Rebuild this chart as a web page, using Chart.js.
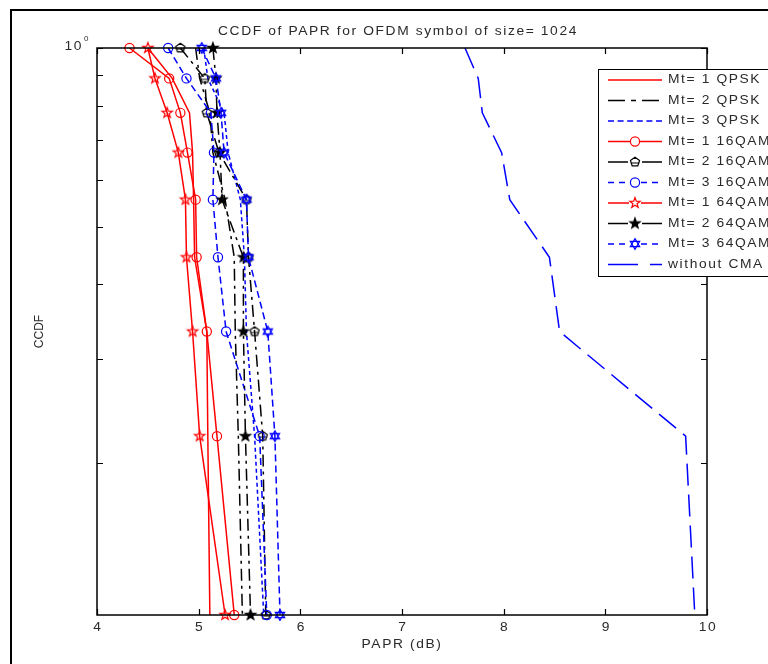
<!DOCTYPE html>
<html>
<head>
<meta charset="utf-8">
<script src="https://cdn.jsdelivr.net/npm/chart.js@4.4.1/dist/chart.umd.min.js"></script>
<style>
html,body{margin:0;padding:0;background:#fff;overflow:hidden;}
#wrap{position:relative;width:768px;height:664px;}
#frame{position:absolute;left:10px;top:9px;width:800px;height:700px;border-left:2px solid #000;border-top:2px solid #000;}
#c{position:absolute;left:0;top:0;}
</style>
</head>
<body>
<div id="wrap"><div id="frame"></div><canvas id="c" width="768" height="664"></canvas></div>
<script>
// ---- data ----
const ccdfLevels = [1, 0.8889, 0.7778, 0.6667, 0.5556, 0.4444, 0.3333, 0.2222, 0.1111];
const mt1Qpsk  = [4.50, 4.74, 4.91, 4.94, 4.95, 4.96, 5.08, 5.09, 5.11];
const mt2Qpsk  = [4.97, 5.01, 5.11, 5.14, 5.26, 5.35, 5.36, 5.39, 5.43];
const mt3Qpsk  = [5.05, 5.09, 5.25, 5.29, 5.41, 5.45, 5.47, 5.55, 5.64];
const mt1Qam16 = [4.32, 4.71, 4.82, 4.89, 4.97, 4.98, 5.08, 5.18, 5.35];
const mt2Qam16 = [4.82, 5.06, 5.08, 5.20, 5.47, 5.49, 5.55, 5.63, 5.66];
const mt3Qam16 = [4.70, 4.88, 5.12, 5.15, 5.14, 5.19, 5.27, 5.60, 5.67];
const mt1Qam64 = [4.50, 4.57, 4.69, 4.80, 4.87, 4.88, 4.94, 5.01, 5.26];
const mt2Qam64 = [5.14, 5.17, 5.18, 5.21, 5.23, 5.44, 5.44, 5.46, 5.51];
const mt3Qam64 = [5.03, 5.17, 5.22, 5.25, 5.47, 5.49, 5.68, 5.75, 5.80];
const noCma    = [7.62, 7.75, 7.79, 7.98, 8.06, 8.45, 8.55, 9.79, 9.88];
const seriesLabels = ['Mt= 1 QPSK','Mt= 2 QPSK','Mt= 3 QPSK','Mt= 1 16QAM','Mt= 2 16QAM','Mt= 3 16QAM','Mt= 1 64QAM','Mt= 2 64QAM','Mt= 3 64QAM','without CMA'];
const xTicks = [4, 5, 6, 7, 8, 9, 10];
const yTicks = [0.2, 0.3, 0.4, 0.5, 0.6, 0.7, 0.8, 0.9, 1];
const titleText = 'CCDF of PAPR for OFDM symbol of size= 1024';
const xLabel = 'PAPR (dB)';
const yLabel = 'CCDF';

// ---- marker images ----
function markerCanvas(kind, color, filled) {
  const s = 16, c = document.createElement('canvas');
  c.width = s; c.height = s;
  const g = c.getContext('2d');
  g.translate(s / 2, s / 2);
  g.lineWidth = 1.2; g.strokeStyle = color; g.fillStyle = color;
  g.beginPath();
  if (kind === 'pentagram') {
    for (let i = 0; i < 10; i++) {
      const r = i % 2 ? 2.2 : 5.4, a = -Math.PI / 2 + i * Math.PI / 5;
      const px = r * Math.cos(a), py = r * Math.sin(a);
      i ? g.lineTo(px, py) : g.moveTo(px, py);
    }
    g.closePath();
  } else if (kind === 'hexagram') {
    for (let t = 0; t < 2; t++) {
      for (let i = 0; i < 3; i++) {
        const a = (t ? Math.PI / 2 : -Math.PI / 2) + i * 2 * Math.PI / 3;
        const px = 5.4 * Math.cos(a), py = 5.4 * Math.sin(a);
        i ? g.lineTo(px, py) : g.moveTo(px, py);
      }
      g.closePath();
    }
  } else if (kind === 'pentagon') {
    for (let i = 0; i < 5; i++) {
      const a = -Math.PI / 2 + i * 2 * Math.PI / 5;
      const px = 4.8 * Math.cos(a), py = 4.8 * Math.sin(a);
      i ? g.lineTo(px, py) : g.moveTo(px, py);
    }
    g.closePath();
    g.moveTo(-4.5, 1); g.lineTo(4.5, 1);
  }
  if (filled) g.fill();
  g.stroke();
  return c;
}
const RED = '#ff0000', BLK = '#000000', BLU = '#0000ff';
const starRed = markerCanvas('pentagram', RED, false);
const starBlk = markerCanvas('pentagram', BLK, true);
const hexBlu = markerCanvas('hexagram', BLU, false);
const pentBlk = markerCanvas('pentagon', BLK, false);

const DD = [12, 5, 3, 5];
const styles = [
  {v: mt1Qpsk,  c: RED, dash: [],        ld: [],            m: false},
  {v: mt2Qpsk,  c: BLK, dash: DD,        ld: [17, 6, 5, 6], m: false},
  {v: mt3Qpsk,  c: BLU, dash: [4, 3],    ld: [6, 3.6],      m: false},
  {v: mt1Qam16, c: RED, dash: [],        ld: [],            m: 'circle'},
  {v: mt2Qam16, c: BLK, dash: DD,        ld: [20, 14],      m: pentBlk},
  {v: mt3Qam16, c: BLU, dash: [7, 4],    ld: [6, 5],        m: 'circle'},
  {v: mt1Qam64, c: RED, dash: [],        ld: [],            m: starRed},
  {v: mt2Qam64, c: BLK, dash: DD,        ld: [20, 14],      m: starBlk},
  {v: mt3Qam64, c: BLU, dash: [7, 4],    ld: [6, 5],        m: hexBlu},
  {v: noCma,    c: BLU, dash: [22, 9],   ld: [30, 12],      m: false}
];

const datasets = styles.map((s, i) => ({
  label: seriesLabels[i],
  data: s.v.map((x, k) => ({x: x, y: ccdfLevels[k]})),
  showLine: true,
  borderColor: s.c,
  backgroundColor: 'rgba(0,0,0,0)',
  borderWidth: 1.5,
  borderDash: s.dash,
  legendDash: s.ld,
  tension: 0,
  pointStyle: s.m || 'circle',
  pointRadius: s.m ? (s.m === 'circle' ? 4.6 : 6) : 0,
  pointHoverRadius: s.m ? 6 : 0,
  pointBorderColor: s.c,
  pointBackgroundColor: 'rgba(0,0,0,0)',
  pointBorderWidth: 1.2,
  clip: false,
  order: 20 - i
}));

const FONT = '12px "Liberation Sans", Arial, sans-serif';
const SX = 1.15, LS = '1.4px';
function txt(ctx, s, x, y, align) {
  ctx.save();
  ctx.translate(x, y);
  ctx.scale(SX, 1);
  ctx.font = FONT; ctx.letterSpacing = LS;
  ctx.textAlign = align; ctx.textBaseline = 'middle';
  ctx.fillText(s, 0, 0);
  ctx.restore();
}
const decor = {
  id: 'decor',
  afterDraw(chart) {
    const ctx = chart.ctx, a = chart.chartArea, xs = chart.scales.x, ys = chart.scales.y;
    ctx.save();
    // axes box
    ctx.strokeStyle = '#000'; ctx.lineWidth = 1.5; ctx.setLineDash([]);
    ctx.strokeRect(a.left, a.top, a.right - a.left, a.bottom - a.top);
    ctx.lineWidth = 1.2;
    ctx.beginPath();
    xTicks.forEach(v => {
      const p = Math.round(xs.getPixelForValue(v)) + 0.5;
      ctx.moveTo(p, a.bottom); ctx.lineTo(p, a.bottom - 6);
      ctx.moveTo(p, a.top); ctx.lineTo(p, a.top + 6);
    });
    yTicks.forEach(v => {
      const p = Math.round(ys.getPixelForValue(v)) + 0.5;
      ctx.moveTo(a.left, p); ctx.lineTo(a.left + 6, p);
      ctx.moveTo(a.right, p); ctx.lineTo(a.right - 6, p);
    });
    ctx.stroke();

    // texts
    ctx.fillStyle = '#2a2a2a';
    xTicks.forEach(v => txt(ctx, String(v), xs.getPixelForValue(v) + 1, a.bottom + 13, 'center'));
    txt(ctx, titleText, (a.left + a.right) / 2 - 4, 32, 'center');
    txt(ctx, xLabel, (a.left + a.right) / 2, 645, 'center');
    const topY = ys.getPixelForValue(1);
    txt(ctx, '10', 83, topY - 1, 'right');
    ctx.font = '8px "Liberation Sans", Arial, sans-serif';
    ctx.letterSpacing = '0px';
    ctx.textAlign = 'left'; ctx.textBaseline = 'middle';
    ctx.fillText('0', 84, topY - 9);
    ctx.save();
    ctx.translate(40, (a.top + a.bottom) / 2);
    ctx.rotate(-Math.PI / 2);
    ctx.letterSpacing = '0px';
    ctx.font = FONT; ctx.textAlign = 'center';
    ctx.fillText(yLabel, 0, 0);
    ctx.restore();

    // legend
    const lx = 598, ly = 69, lh = 207;
    ctx.fillStyle = '#fff';
    ctx.fillRect(lx, ly, 220, lh);
    ctx.strokeStyle = '#000'; ctx.lineWidth = 1;
    ctx.strokeRect(lx + 0.5, ly + 0.5, 220, lh);
    chart.data.datasets.forEach((ds, i) => {
      const y = 80 + i * 20.5;
      ctx.strokeStyle = ds.borderColor; ctx.lineWidth = ds.borderWidth;
      ctx.setLineDash(ds.legendDash);
      ctx.beginPath(); ctx.moveTo(608, y); ctx.lineTo(662, y); ctx.stroke();
      ctx.setLineDash([]);
      const m = ds.pointStyle;
      if (ds.pointRadius > 0) {
        if (m === 'circle') {
          ctx.beginPath(); ctx.arc(635, y, 4.6, 0, Math.PI * 2);
          ctx.fillStyle = '#fff'; ctx.fill();
          ctx.lineWidth = 1.2; ctx.strokeStyle = ds.borderColor; ctx.stroke();
        } else {
          ctx.fillStyle = '#fff'; ctx.fillRect(629, y - 6, 12, 12);
          ctx.drawImage(m, 635 - m.width / 2, y - m.height / 2);
        }
      }
      ctx.fillStyle = '#2a2a2a';
      txt(ctx, ds.label, 668, y, 'left');
    });
    ctx.restore();
  }
};

new Chart(document.getElementById('c'), {
  type: 'scatter',
  data: {datasets: datasets},
  options: {
    responsive: false,
    animation: false,
    devicePixelRatio: 1,
    layout: {padding: {left: 97, top: 48, right: 61, bottom: 49}},
    plugins: {legend: {display: false}, title: {display: false}, tooltip: {enabled: false}},
    scales: {
      x: {type: 'linear', min: 4, max: 10, display: false},
      y: {type: 'logarithmic', min: 0.1111, max: 1, display: false}
    }
  },
  plugins: [decor]
});
</script>
</body>
</html>
